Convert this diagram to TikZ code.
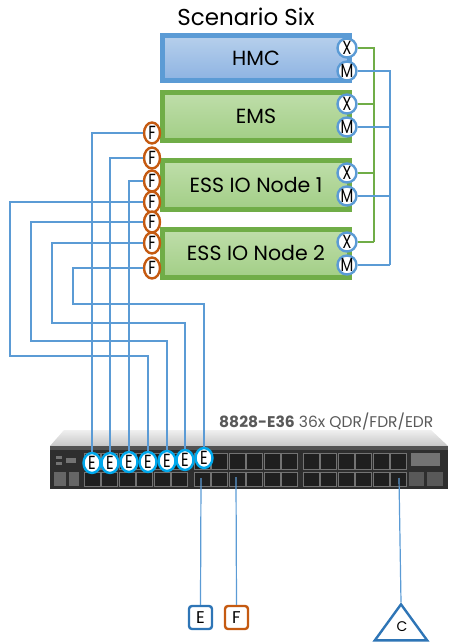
\documentclass[tikz,border=0pt]{standalone}
\usepackage{fontspec}
\usepackage{graphicx}
\setmainfont{Poppins}
\usetikzlibrary{shapes.geometric,calc}
\definecolor{hmcblue}{HTML}{5B9BD5}
\definecolor{hmctop}{HTML}{B7D0EC}
\definecolor{hmcbot}{HTML}{8DB3E2}
\definecolor{emsgreen}{HTML}{70AD47}
\definecolor{emstop}{HTML}{BFDEAA}
\definecolor{emsbot}{HTML}{A2CE86}
\definecolor{forange}{HTML}{C55A11}
\definecolor{ecyan}{HTML}{00A8EC}
\definecolor{linkblue}{HTML}{5B9BD5}
\definecolor{darkblue}{HTML}{2E75B6}
\definecolor{labelgray}{HTML}{595959}
% letter set inside a small port badge
\newcommand{\portletter}[1]{\scalebox{0.78}[1]{\fontsize{19}{19}\selectfont #1}}
\tikzset{
  hostbox/.style={rectangle, line width=5pt, minimum width=187pt, inner sep=0pt, font=\fontsize{20.5}{22}\selectfont, text=black},
  hmcbox/.style={hostbox, draw=hmcblue, top color=hmctop, bottom color=hmcbot},
  essbox/.style={hostbox, draw=emsgreen, top color=emstop, bottom color=emsbot},
  badge/.style={fill=white, line width=2.4pt, inner sep=-6pt},
  portx/.style={circle, draw=hmcblue, minimum size=19pt, badge},
  portf/.style={ellipse, draw=forange, minimum width=16pt, minimum height=21pt, badge},
  porte/.style={ellipse, draw=ecyan, minimum width=17pt, minimum height=20pt, badge},
  xlink/.style={draw=emsgreen, line width=2.4pt},
  mlink/.style={draw=linkblue, line width=1.2pt},
  flink/.style={draw=linkblue, line width=1.2pt},
  tagbox/.style={rectangle, rounded corners=3pt, fill=white, line width=2.4pt, minimum size=23pt, inner sep=0pt, font=\fontsize{17}{17}\selectfont},
  sfport/.style={fill=black!88, draw=black!55, line width=0.6pt},
}
\begin{document}
\begin{tikzpicture}[x=1pt,y=-1pt]
\useasboundingbox (0,0) rectangle (454,643);

% title
\node[font=\fontsize{23}{25}\selectfont] (title) at (246,17) {Scenario Six};

% hosts
\node[hmcbox, minimum height=45pt] (hmc) at (256,58) {HMC};
\node[essbox, minimum height=48pt] (ems) at (256,116.5) {EMS};
\node[essbox, minimum height=49pt] (io1) at (256,185) {ESS IO Node 1};
\node[essbox, minimum height=48pt] (io2) at (256,253.5) {ESS IO Node 2};

% management ports (X = cluster, M = management)
\node[portx] (x1) at (347,48) {\portletter{X}};
\node[portx] (m1) at (347,71) {\portletter{M}};
\node[portx] (x2) at (347,104) {\portletter{X}};
\node[portx] (m2) at (347,127) {\portletter{M}};
\node[portx] (x3) at (347,173) {\portletter{X}};
\node[portx] (m3) at (347,196) {\portletter{M}};
\node[portx] (x4) at (347,242) {\portletter{X}};
\node[portx] (m4) at (347,265) {\portletter{M}};

% green service network bus
\coordinate (gbus) at (374,242);
\draw[xlink] (x1.east) -| (gbus);
\draw[xlink] (x2.east) -- (x2.east -| gbus);
\draw[xlink] (x3.east) -- (x3.east -| gbus);
\draw[xlink] (x4.east) -- (gbus);

% blue management bus
\coordinate (mbus) at (390,265);
\draw[mlink] (m1.east) -| (mbus);
\draw[mlink] (m2.east) -- (m2.east -| mbus);
\draw[mlink] (m3.east) -- (m3.east -| mbus);
\draw[mlink] (m4.east) -- (mbus);

% switch: top face
\shade[top color=white!94!black, bottom color=white!78!black]
  (64,430) -- (431,430) -- (448,446) -- (50,446) -- cycle;
% switch: front face
\fill[black!82] (50,446) rectangle (448,489);
\fill[black!68] (50,446) rectangle (448,450);
% left panel details
\fill[black!55] (56,456) rectangle (62,459);
\fill[black!55] (56,462) rectangle (62,465);
\fill[black!55] (66,458) rectangle (76,463);
\fill[black!60] (54,472) rectangle (66,486);
\fill[black!60] (69,472) rectangle (79,486);
% right panel details
\fill[black!55] (411,453) rectangle (440,466);
\fill[black!65] (409,472) rectangle (424,486);
\fill[black!65] (427,472) rectangle (443,486);
% QSFP cages, 3 groups of 6, two rows
\foreach \gx in {84,194,303}{
  \foreach \i in {0,...,5}{
    \path[sfport] ({\gx+\i*17.5},453) rectangle ({\gx+\i*17.5+16},469);
    \path[sfport] ({\gx+\i*17.5},472) rectangle ({\gx+\i*17.5+16},486);
  }
}

% switch label
\node[anchor=west, text=labelgray, font=\fontsize{15.5}{17}\selectfont, inner sep=0pt] (swlabel) at (219,422)
  {\textbf{8828-E36} 36x QDR/FDR/EDR};

% switch ports used by the storage nodes
\node[porte] (e1) at (92,463) {\portletter{E}};
\node[porte] (e2) at (110,463) {\portletter{E}};
\node[porte] (e3) at (129,462) {\portletter{E}};
\node[porte] (e4) at (148,462) {\portletter{E}};
\node[porte] (e5) at (167,461) {\portletter{E}};
\node[porte] (e6) at (185,460) {\portletter{E}};
\node[porte] (e7) at (204,458) {\portletter{E}};

% fabric ports on hosts
\node[portf] (f1) at (152,133) {\portletter{F}};
\node[portf] (f2) at (152,158) {\portletter{F}};
\node[portf] (f3) at (152,181) {\portletter{F}};
\node[portf] (f4) at (152,202) {\portletter{F}};
\node[portf] (f5) at (152,222) {\portletter{F}};
\node[portf] (f6) at (152,243) {\portletter{F}};
\node[portf] (f7) at (152,268) {\portletter{F}};

% fabric cabling
\coordinate (w4a) at (10,356);
\coordinate (w5a) at (31,341);
\coordinate (w6a) at (52,323);
\coordinate (w7a) at (73,304);
\draw[flink] (f1.west) -| (e1.north);
\draw[flink] (f2.west) -| (e2.north);
\draw[flink] (f3.west) -| (e3.north);
\draw[flink] (f4.west) -| (w4a) -| (e4.north);
\draw[flink] (f5.west) -| (w5a) -| (e5.north);
\draw[flink] (f6.west) -| (w6a) -| (e6.north);
\draw[flink] (f7.west) -| (w7a) -| (e7.north);

% uplinks out of the switch
\coordinate (pe) at (201,478);
\coordinate (pf) at (236,477);
\coordinate (pc) at (399,478);
\node[tagbox, draw=darkblue] (tage) at (200.5,617.5) {E};
\node[tagbox, draw=forange] (tagf) at (236.5,617.5) {F};
\node[isosceles triangle, isosceles triangle apex angle=72, shape border rotate=90,
      draw=darkblue, fill=white, line width=2.4pt, minimum height=36pt, inner sep=0pt] (tagc) at (401,627) {};
\node[font=\fontsize{14}{14}\selectfont] (tagclabel) at (402,627) {C};
\draw[flink] (pe) -- (tage.north);
\draw[flink] (pf) -- (tagf.north);
\draw[flink] (pc) -- (tagc.apex);
\end{tikzpicture}
\end{document}
